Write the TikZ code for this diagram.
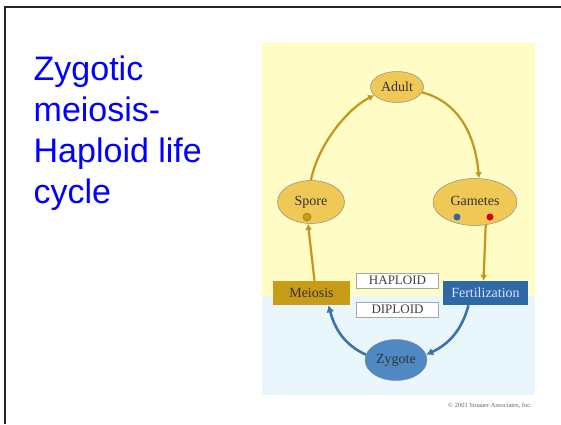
\documentclass[tikz,border=0pt]{standalone}
\usepackage{fontspec}
\setmainfont{Liberation Serif}
\newfontfamily\arialf{Liberation Sans}
\usetikzlibrary{shapes.geometric,arrows.meta}
\definecolor{bgyellow}{RGB}{255,252,198}
\definecolor{bgblue}{RGB}{233,247,252}
\definecolor{goldfill}{RGB}{240,200,85}
\definecolor{goldline}{RGB}{196,150,25}
\definecolor{meiosisfill}{RGB}{200,155,25}
\definecolor{fertfill}{RGB}{45,105,165}
\definecolor{zygfill}{RGB}{78,137,196}
\definecolor{bluearrow}{RGB}{55,115,178}
\definecolor{titleblue}{RGB}{0,0,255}
\tikzset{
  x=1pt, y=1pt,
  stage/.style={ellipse, draw=black!45, line width=0.5pt, fill=goldfill, inner sep=0pt,
    font=\fontsize{14}{14}\selectfont, text=black!80},
  bandbox/.style={rectangle, inner sep=0pt, minimum height=24pt,
    font=\fontsize{14}{14}\selectfont},
  phasebox/.style={rectangle, draw=black!35, line width=0.4pt, fill=white, inner sep=0pt,
    minimum width=82pt, minimum height=15pt, font=\fontsize{13}{13}\selectfont, text=black!75},
  goldarrow/.style={draw=goldline, line width=2.2pt, -{Latex[length=6pt,width=7pt]}},
  bluearr/.style={draw=bluearrow, line width=2.6pt, -{Latex[length=7pt,width=8pt]}},
  titletext/.style={anchor=base west, inner sep=0pt, text=titleblue,
    font=\arialf\fontsize{34}{41}\selectfont},
  dot/.style={circle, inner sep=0pt, minimum size=7pt}
}
\begin{document}
\begin{tikzpicture}
\useasboundingbox (0,0) rectangle (561,-424);
\fill[white] (0,0) rectangle (561,-424);
% slide frame
\draw[line width=2.3pt, black!85] (4.8,-424) -- (4.8,-7) -- (561,-7);
% title
\node[titletext] (t1) at (33.5,-80) {Zygotic};
\node[titletext] (t2) at (33.5,-121.5) {meiosis-};
\node[titletext] (t3) at (33.5,-162.5) {Haploid life};
\node[titletext] (t4) at (33.5,-203) {cycle};
% backgrounds
\fill[bgyellow] (262,-42) rectangle (535,-296);
\fill[bgblue] (262,-296) rectangle (535,-395);
% stages
\node[stage, minimum width=53pt, minimum height=31pt] (adult) at (397,-87) {Adult};
\node[stage, minimum width=67pt, minimum height=43pt] (spore) at (311,-202) {\raisebox{3pt}{Spore}};
\node[stage, minimum width=84pt, minimum height=47pt] (gametes) at (475,-202) {\raisebox{3pt}{Gametes}};
\node[circle, inner sep=0pt, minimum size=8pt, fill=meiosisfill, draw=goldline!70!black, line width=0.4pt] (sporedot) at (307,-217) {};
\node[dot, fill=fertfill] (gblue) at (457,-217) {};
\node[dot, fill=red!85!black] (gred) at (490,-217) {};
\node[bandbox, fill=meiosisfill, minimum width=77pt, text=black!80] (meiosis) at (311.5,-293) {Meiosis};
\node[bandbox, fill=fertfill, minimum width=85pt, text=white!88!blue] (fert) at (485.5,-293) {Fertilization};
\node[phasebox] (haploid) at (397.5,-280.5) {HAPLOID};
\node[phasebox] (diploid) at (397.5,-309.5) {DIPLOID};
\node[stage, fill=zygfill, minimum width=62pt, minimum height=41pt] (zygote) at (396,-360) {Zygote};
% arrows
\draw[goldarrow] (spore.north) .. controls (317,-148) and (345,-110) .. (adult.200);
\draw[goldarrow] (adult.-12) to[out=-15, in=95] ([xshift=4pt]gametes.north);
\draw[goldarrow] (gametes.-65) -- ([xshift=-2pt]fert.north);
\draw[goldarrow] ([xshift=3pt]meiosis.north) -- ([xshift=-3pt]spore.south);
\draw[bluearr] ([xshift=-17pt]fert.south) to[out=-105, in=25] (zygote.10);
\draw[bluearr] (zygote.170) to[out=155, in=-75] ([xshift=17pt]meiosis.south);
% credit
\node[inner sep=0pt, text=black!60, font=\fontsize{6.5}{7}\selectfont] (credit) at (490,-406) {\textcopyright\ 2001 Sinauer Associates, Inc.};
\end{tikzpicture}
\end{document}
